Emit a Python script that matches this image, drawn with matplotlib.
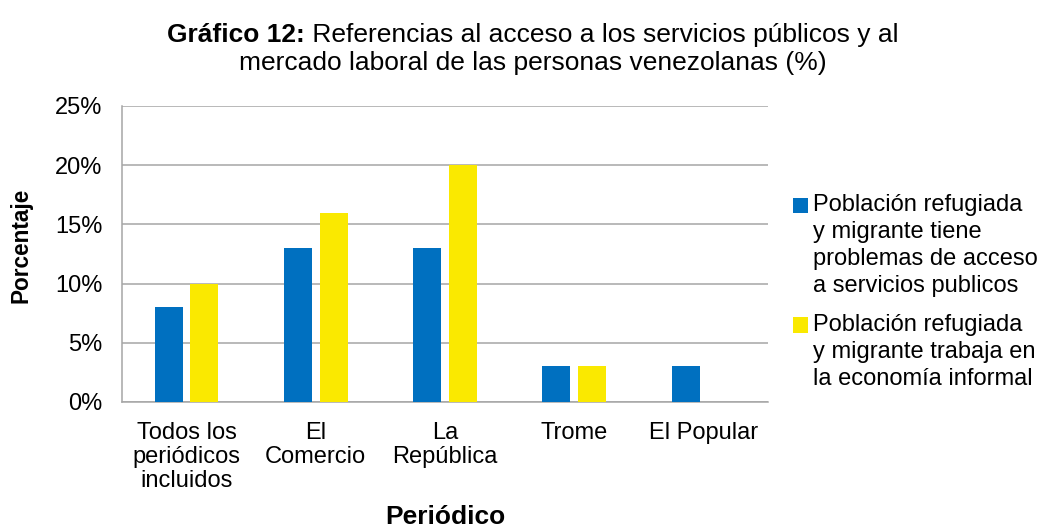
import numpy as np
import matplotlib
matplotlib.use("Agg")
import matplotlib.pyplot as plt
from matplotlib.container import BarContainer
from matplotlib.legend_handler import HandlerPatch, update_from_first_child
from matplotlib.patches import Rectangle

plt.rcParams["font.family"] = ["Liberation Sans", "DejaVu Sans"]

# data
categories = ["Todos los\nperiódicos\nincluidos", "El\nComercio", "La\nRepública", "Trome", "El Popular"]
servicios = [8, 13, 13, 3, 3]
informal = [10, 16, 20, 3, 0]
series_labels = [
    "Población refugiada\ny migrante tiene\nproblemas de acceso\na servicios publicos",
    "Población refugiada\ny migrante trabaja en\nla economía informal",
]
colors = ["#0070C0", "#FAE900"]

FS = 17
LINE_PT = 19.4  # legend line height in points


def top_square(legend, orig_handle, xdescent, ydescent, width, height, fontsize):
    # put the legend square next to the first text line, like Excel does
    n = orig_handle.get_label().count("\n")
    return Rectangle((-xdescent, -ydescent + n * LINE_PT / 2), width, height)


fig = plt.figure(figsize=(10.4, 5.31), dpi=100)
ax = fig.add_axes([0.1173, 0.243, 0.6212, 0.5574])

x = np.arange(len(categories))
w = 0.216
gap = 0.06
ax.bar(x - (w + gap) / 2, servicios, w, color=colors[0], label=series_labels[0], zorder=3)
ax.bar(x + (w + gap) / 2, informal, w, color=colors[1], label=series_labels[1], zorder=3)

ax.set_xlim(-0.5, len(categories) - 0.5)
ax.set_ylim(0, 25)
ax.set_yticks(range(0, 26, 5))
ax.set_yticklabels([f"{v}%" for v in range(0, 26, 5)])
ax.set_xticks(x)
ax.set_xticklabels(categories, linespacing=1.12)
ax.tick_params(axis="both", length=0, labelsize=FS)
ax.tick_params(axis="y", pad=14)
ax.tick_params(axis="x", pad=14.5)
ax.grid(axis="y", color="#A6A6A6", linewidth=1.1, zorder=0)
for s in ["top", "right"]:
    ax.spines[s].set_visible(False)
for s in ["left", "bottom"]:
    ax.spines[s].set_color("#A6A6A6")
    ax.spines[s].set_linewidth(1.1)

ax.set_ylabel("Porcentaje", fontsize=16.3, fontweight="bold")
ax.yaxis.set_label_coords(-0.139, 0.53)
ax.set_xlabel("Periódico", fontsize=19, fontweight="bold", labelpad=9)

leg = fig.legend(loc="upper left", bbox_to_anchor=(0.7425, 0.675), frameon=False,
                 fontsize=FS, handlelength=0.62, handleheight=0.62, handletextpad=0.2,
                 labelspacing=0.7,
                 handler_map={BarContainer: HandlerPatch(patch_func=top_square,
                                                         update_func=update_from_first_child)})
for t in leg.get_texts():
    t.set_linespacing(1.3)

# title: bold prefix + regular remainder on first line
TFS = 19
t1 = fig.text(0.5, 0.921, "Gráfico 12:", fontsize=TFS, fontweight="bold", ha="left", va="baseline")
t2 = fig.text(0.5, 0.921, " Referencias al acceso a los servicios públicos y al", fontsize=TFS,
              ha="left", va="baseline")
fig.canvas.draw()
r = fig.canvas.get_renderer()
w1 = t1.get_window_extent(r).width / fig.bbox.width
w2 = t2.get_window_extent(r).width / fig.bbox.width
xc = 0.512
t1.set_x(xc - (w1 + w2) / 2)
t2.set_x(xc - (w1 + w2) / 2 + w1)
fig.text(xc, 0.868, "mercado laboral de las personas venezolanas (%)", fontsize=TFS,
         ha="center", va="baseline")

fig.savefig("out.png", dpi=100)
